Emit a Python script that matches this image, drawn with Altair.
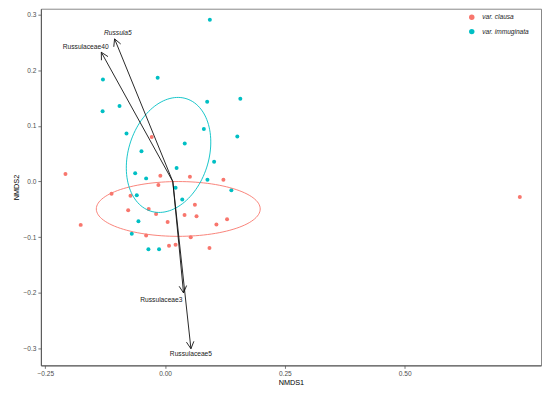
import altair as alt
import pandas as pd
import numpy as np

FONT = "Liberation Sans"

groups = ["var. clausa", "var. immuginata"]
colors = ["#F8766D", "#00BFC4"]

clausa_x = [-0.0278, -0.2078, -0.0098, 0.0519, 0.1218, -0.1116, -0.0139, -0.0721,
            0.0623, -0.0769, -0.0341, -0.0187, 0.0407, 0.0657, 0.0054, 0.1294,
            0.1072, -0.1760, -0.0395, 0.0536, 0.0083, 0.0220, 0.0927, 0.7403]
clausa_y = [0.0801, 0.0134, 0.0104, 0.0086, 0.0032, -0.0218, -0.0063, -0.0254,
            -0.0415, -0.0515, -0.0492, -0.0581, -0.0599, -0.0623, -0.0725, -0.0676,
            -0.0773, -0.0778, -0.0970, -0.1002, -0.1154, -0.1136, -0.1195, -0.0277]

immu_x = [0.0935, -0.1296, -0.0154, 0.1571, 0.0879, -0.1303, -0.0950, 0.0810,
          0.1508, -0.0804, 0.0411, -0.0492, 0.1024, 0.0241, -0.0623, -0.0395,
          0.0885, 0.1384, 0.0220, -0.0590, 0.0359, -0.0555, -0.0694, -0.0347, -0.0125]
immu_y = [0.2907, 0.1834, 0.1864, 0.1488, 0.1435, 0.1261, 0.1356, 0.0945,
          0.0809, 0.0862, 0.0683, 0.0546, 0.0354, 0.0242, 0.0147, 0.0057,
          0.0032, -0.0157, -0.0111, -0.0247, -0.0322, -0.0712, -0.0939, -0.1216, -0.1216]

# environmental-fit arrows
arrow_names = ["Russula5", "Russulaceae40", "Russulaceae3", "Russulaceae5"]
arrow_x0 = 0.0162
arrow_y0 = 0.0
arrow_x = [-0.1053, -0.1330, 0.0386, 0.0540]
arrow_y = [0.2562, 0.2322, -0.2000, -0.3002]
label_x = [-0.0985, -0.1656, -0.0077, 0.0540]
label_y = [0.2669, 0.2419, -0.2125, -0.3104]
label_italic = [True, False, False, False]

# group ellipses: centre and two conjugate semi-diameters (U, V)
ell_cx = [0.0276, 0.0073]
ell_cy = [-0.0492, 0.0478]
ell_ux = [0.171, 0.0121]
ell_uy = [0.0, 0.1029]
ell_vx = [0.0, 0.0873]
ell_vy = [0.0492, 0.0089]

x_ticks = [-0.25, 0.0, 0.25, 0.50]
y_ticks = [-0.3, -0.2, -0.1, 0.0, 0.1, 0.2, 0.3]
x_domain = [-0.2591, 0.7845]
y_domain = [-0.3301, 0.3104]

W, H = 502, 358
PX = W / (x_domain[1] - x_domain[0])
PY = H / (y_domain[1] - y_domain[0])

# ---- tables ----
pts = pd.DataFrame({
    "x": clausa_x + immu_x,
    "y": clausa_y + immu_y,
    "group": [groups[0]] * len(clausa_x) + [groups[1]] * len(immu_x),
})

t = np.linspace(0, 2 * np.pi, 121)
ell_rows = []
for g in range(2):
    for i, tt in enumerate(t):
        ell_rows.append({
            "grp": groups[g], "order": i,
            "x": ell_cx[g] + ell_ux[g] * np.cos(tt) + ell_vx[g] * np.sin(tt),
            "y": ell_cy[g] + ell_uy[g] * np.cos(tt) + ell_vy[g] * np.sin(tt),
        })
ell = pd.DataFrame(ell_rows)

seg_rows = []
head_len = 8.0
head_ang = np.radians(28)
for n, ax_, ay_ in zip(arrow_names, arrow_x, arrow_y):
    seg_rows.append({"name": n, "x": arrow_x0, "y": arrow_y0, "x2": ax_, "y2": ay_})
    dx = (ax_ - arrow_x0) * PX
    dy = (ay_ - arrow_y0) * PY
    L = np.hypot(dx, dy)
    ux, uy = dx / L, dy / L
    for s in (-1, 1):
        c, sn = np.cos(s * head_ang), np.sin(s * head_ang)
        rx = ux * c - uy * sn
        ry = ux * sn + uy * c
        seg_rows.append({"name": n, "x": ax_, "y": ay_,
                         "x2": ax_ - head_len * rx / PX,
                         "y2": ay_ - head_len * ry / PY})
segs = pd.DataFrame(seg_rows)

labels = pd.DataFrame({"name": arrow_names, "x": label_x, "y": label_y,
                       "italic": label_italic})

xs = alt.Scale(domain=x_domain, nice=False, zero=False)
ys = alt.Scale(domain=y_domain, nice=False, zero=False)

xax = alt.Axis(values=x_ticks, format=".2f", title="NMDS1")
yax = alt.Axis(values=y_ticks, format=".1f", title="NMDS2")

points = alt.Chart(pts).mark_circle(size=16, opacity=1).encode(
    x=alt.X("x:Q", scale=xs, axis=xax),
    y=alt.Y("y:Q", scale=ys, axis=yax),
    color=alt.Color("group:N", scale=alt.Scale(domain=groups, range=colors), title=None,
                    legend=alt.Legend(orient="none", legendX=429, legendY=5,
                                      symbolType="circle", symbolSize=30,
                                      labelFontSize=6.6, labelFont=FONT,
                                      labelFontStyle="italic", labelColor="#1a1a1a",
                                      labelOffset=7, rowPadding=6.5, padding=0)),
)

ellipses = alt.Chart(ell).mark_line(strokeWidth=0.9, clip=True).encode(
    x=alt.X("x:Q", scale=xs),
    y=alt.Y("y:Q", scale=ys),
    stroke=alt.Stroke("grp:N", scale=alt.Scale(domain=groups, range=colors), legend=None),
    order="order:Q",
    detail="grp:N",
)

arrows = alt.Chart(segs).mark_rule(color="#111111", strokeWidth=0.9).encode(
    x=alt.X("x:Q", scale=xs), y=alt.Y("y:Q", scale=ys),
    x2="x2:Q", y2="y2:Q",
)

text_plain = alt.Chart(labels).transform_filter("!datum.italic").mark_text(
    font=FONT, fontSize=6.7, color="#1a1a1a", align="center", baseline="middle"
).encode(x=alt.X("x:Q", scale=xs), y=alt.Y("y:Q", scale=ys), text="name:N")

text_ital = alt.Chart(labels).transform_filter("datum.italic").mark_text(
    font=FONT, fontSize=6.7, color="#1a1a1a", align="center", baseline="middle",
    fontStyle="italic"
).encode(x=alt.X("x:Q", scale=xs), y=alt.Y("y:Q", scale=ys), text="name:N")

chart = alt.layer(points, ellipses, arrows, text_plain, text_ital).resolve_scale(
    color="independent", stroke="independent"
).properties(
    width=W, height=H,
    autosize=alt.AutoSizeParams(type="none"),
    padding={"left": 33, "top": 0, "right": 1, "bottom": 20},
).configure_view(
    stroke="#888888", strokeWidth=1
).configure_axis(
    grid=False, domain=True, domainColor="#555555", domainWidth=1,
    tickColor="#555555", tickSize=3, tickWidth=0.8,
    labelFont=FONT, labelFontSize=6.6, labelColor="#4d4d4d", labelPadding=2,
    titleFont=FONT, titleFontSize=7.3, titleFontWeight="normal", titleColor="#000000",
    titlePadding=2,
)

chart.save("out.html", embed_options={"renderer": "svg", "actions": False})
